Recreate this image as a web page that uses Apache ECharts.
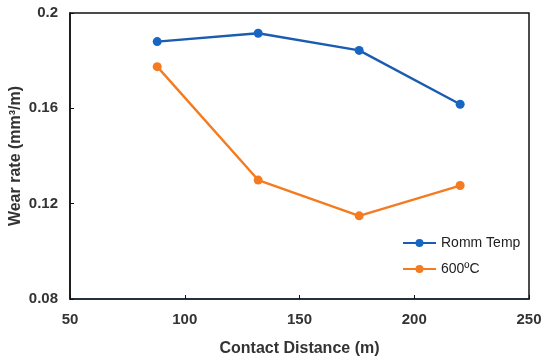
<!DOCTYPE html>
<html><head><meta charset="utf-8">
<script src="https://cdn.jsdelivr.net/npm/echarts@6/dist/echarts.min.js"></script>
<style>html,body{margin:0;padding:0;background:#fff}#c{width:550px;height:362px}</style>
</head><body><div id="c"></div>
<script>
const distances = [88, 132, 176, 220];
const roomTemp = [0.188, 0.1915, 0.1843, 0.1617];
const hot600 = [0.1775, 0.1299, 0.1149, 0.1276];
const seriesNames = ['Romm Temp', '600ºC'];
const xTitle = 'Contact Distance (m)';
const yTitle = 'Wear rate (mm³/m)';

const chart = echarts.init(document.getElementById('c'));
const labelFont = {fontFamily: 'Liberation Sans, Arial', fontWeight: 'bold', fontSize: 15, color: '#333'};
const titleFont = {fontFamily: 'Liberation Sans, Arial', fontWeight: 'bold', fontSize: 16, color: '#333'};
chart.setOption({
  animation: false,
  grid: {left: 70, right: 21, top: 13, bottom: 63, show: true, borderColor: '#111', borderWidth: 1.5,
         containLabel: false, outerBoundsMode: 'none'},
  xAxis: {
    type: 'value', min: 50, max: 250, interval: 50,
    axisLine: {show: true, lineStyle: {color: '#1a2a3a', width: 1.5}},
    axisTick: {show: true, inside: true, length: 4, lineStyle: {color: '#111'}},
    splitLine: {show: false},
    axisLabel: Object.assign({margin: 13}, labelFont),
    name: xTitle, nameLocation: 'middle', nameGap: 42, nameMoveOverlap: false,
    nameTextStyle: titleFont
  },
  yAxis: {
    type: 'value', min: 0.08, max: 0.2, interval: 0.04,
    axisLine: {show: true, lineStyle: {color: '#111', width: 1.5}},
    axisTick: {show: true, inside: true, length: 4, lineStyle: {color: '#111'}},
    splitLine: {show: false},
    axisLabel: Object.assign({margin: 12, formatter: v => String(+v.toFixed(2))}, labelFont),
    name: yTitle, nameLocation: 'middle', nameGap: 46, nameMoveOverlap: false,
    nameTextStyle: titleFont
  },
  legend: {
    orient: 'vertical', left: 402, top: 236, padding: 0, itemGap: 12, itemWidth: 33, itemHeight: 10,
    textStyle: {fontFamily: 'Liberation Sans, Arial', fontSize: 14, color: '#222'},
    data: seriesNames
  },
  series: [
    {name: seriesNames[0], type: 'line', data: distances.map((d, i) => [d, roomTemp[i]]),
     symbol: 'circle', symbolSize: 9, color: '#1766c4', lineStyle: {width: 2.4, color: '#1a5cb0'}},
    {name: seriesNames[1], type: 'line', data: distances.map((d, i) => [d, hot600[i]]),
     symbol: 'circle', symbolSize: 9, color: '#f47b20', lineStyle: {width: 2.4, color: '#f47b20'}}
  ]
});
</script></body></html>
